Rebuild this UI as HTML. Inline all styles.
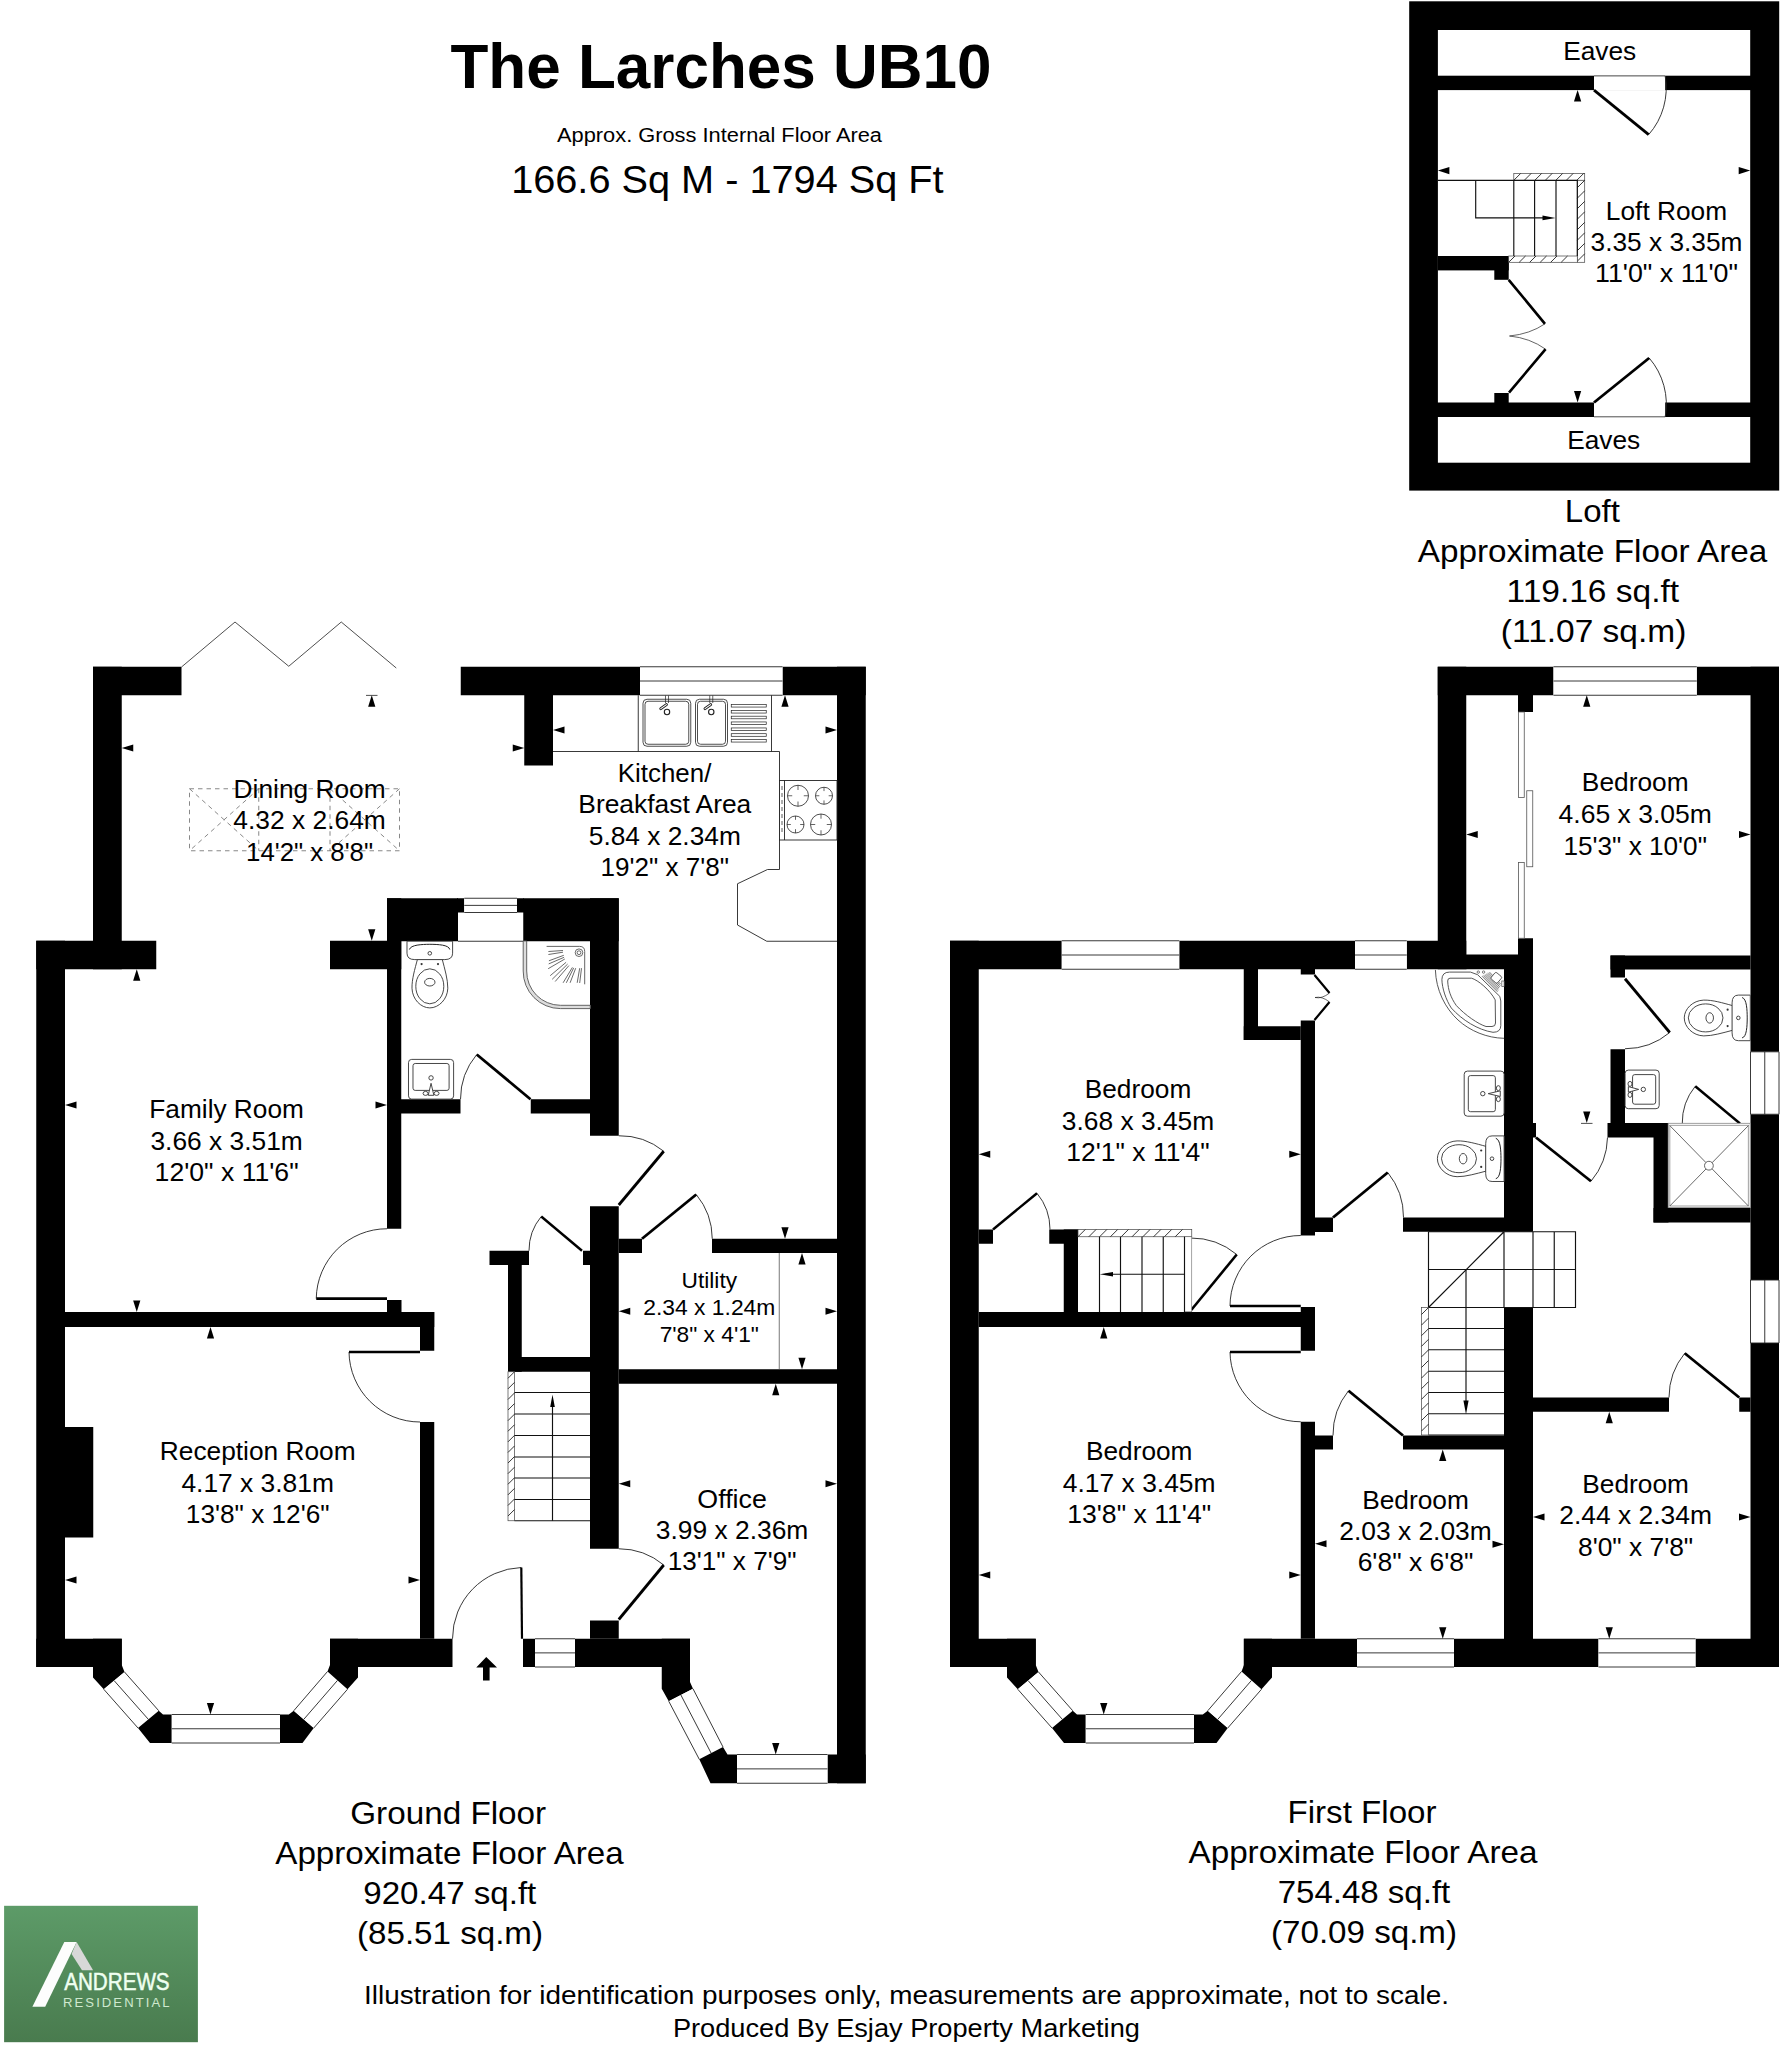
<!DOCTYPE html>
<html><head><meta charset="utf-8"><title>The Larches UB10</title>
<style>
html,body{margin:0;padding:0;background:#fff;}
body{width:1781px;height:2048px;overflow:hidden;}
svg{display:block;font-family:"Liberation Sans",sans-serif;}
</style></head><body>
<svg width="1781" height="2048" viewBox="0 0 1781 2048">
<defs><linearGradient id="lg" x1="0" y1="0" x2="0" y2="1"><stop offset="0" stop-color="#5d9b68"/><stop offset="1" stop-color="#497b4e"/></linearGradient></defs>
<rect width="1781" height="2048" fill="#fff"/>
<g id="ground">
<rect x="93" y="666.75" width="88.5" height="28.5" fill="#000" />
<rect x="93" y="666.75" width="28.75" height="302.5" fill="#000" />
<rect x="36.25" y="940.75" width="120" height="28.5" fill="#000" />
<rect x="36.25" y="940.75" width="28.75" height="726.25" fill="#000" />
<rect x="330" y="940.75" width="71.25" height="28.5" fill="#000" />
<rect x="387" y="898.25" width="14.25" height="330.5" fill="#000" />
<rect x="387" y="898.25" width="71" height="43" fill="#000" />
<rect x="457" y="898.25" width="7.25" height="14.25" fill="#000" />
<rect x="517" y="898.25" width="7" height="14.25" fill="#000" />
<rect x="523.25" y="898.25" width="95.5" height="43" fill="#000" />
<rect x="590" y="898.25" width="28.75" height="237.5" fill="#000" />
<rect x="387" y="1099.25" width="73.5" height="14.25" fill="#000" />
<rect x="530.75" y="1099.25" width="59.25" height="14.25" fill="#000" />
<rect x="460.75" y="666.75" width="179.25" height="28.5" fill="#000" />
<rect x="782.5" y="666.75" width="83.25" height="28.5" fill="#000" />
<rect x="524.25" y="695" width="28.75" height="70.5" fill="#000" />
<rect x="837" y="666.75" width="28.75" height="1116.5" fill="#000" />
<rect x="590" y="1206.25" width="28.75" height="342.5" fill="#000" />
<rect x="618.75" y="1238.75" width="23.25" height="14.25" fill="#000" />
<rect x="712" y="1238.75" width="125" height="14.25" fill="#000" />
<rect x="618.75" y="1369.25" width="218.25" height="14.5" fill="#000" />
<rect x="489.5" y="1250.75" width="39.5" height="14.25" fill="#000" />
<rect x="583" y="1250.75" width="7" height="14.25" fill="#000" />
<rect x="508" y="1265" width="13.75" height="106.75" fill="#000" />
<rect x="508" y="1357" width="82" height="14.75" fill="#000" />
<rect x="387" y="1300" width="14.5" height="12" fill="#000" />
<rect x="65" y="1312" width="369.25" height="15" fill="#000" />
<rect x="420" y="1312" width="14.25" height="38.75" fill="#000" />
<rect x="420" y="1422" width="14.25" height="216.75" fill="#000" />
<rect x="65" y="1427" width="28.25" height="110.5" fill="#000" />
<rect x="36.25" y="1638.75" width="85.5" height="28.25" fill="#000" />
<rect x="330" y="1638.75" width="122.5" height="28.25" fill="#000" />
<rect x="523" y="1638.75" width="12" height="28.25" fill="#000" />
<rect x="575" y="1638.75" width="115" height="28.25" fill="#000" />
<rect x="590" y="1620.5" width="28.75" height="18.25" fill="#000" />
<rect x="827.5" y="1754.5" width="38.25" height="28.75" fill="#000" />
<polygon points="93,1667 93,1677.5 103.75,1689.25 124.5,1672 121.75,1665 121.75,1638.75 93,1638.75" fill="#000" />
<polygon points="124.5,1672 158.75,1710.75 138,1728 103.75,1689.25" fill="#fff" />
<line x1="124.5" y1="1672" x2="158.75" y2="1710.75" stroke="#222" stroke-width="0.9" />
<line x1="103.75" y1="1689.25" x2="138" y2="1728" stroke="#222" stroke-width="0.9" />
<line x1="114.12" y1="1680.62" x2="148.38" y2="1719.38" stroke="#222" stroke-width="0.9" />
<polygon points="138,1728 158.75,1710.75 163,1714.5 171.75,1714.5 171.75,1743 150,1743" fill="#000" />
<rect x="171.75" y="1714.5" width="108.25" height="28.5" fill="#fff" />
<line x1="171.75" y1="1714.5" x2="280" y2="1714.5" stroke="#222" stroke-width="0.9" />
<line x1="171.75" y1="1728.75" x2="280" y2="1728.75" stroke="#222" stroke-width="0.9" />
<line x1="171.75" y1="1743" x2="280" y2="1743" stroke="#222" stroke-width="0.9" />
<polygon points="280,1714.5 288.75,1714.5 293.75,1710.75 313.75,1728 302.5,1743 280,1743" fill="#000" />
<polygon points="293.75,1710.75 327.5,1671.5 347.5,1689.25 313.75,1728" fill="#fff" />
<line x1="293.75" y1="1710.75" x2="327.5" y2="1671.5" stroke="#222" stroke-width="0.9" />
<line x1="313.75" y1="1728" x2="347.5" y2="1689.25" stroke="#222" stroke-width="0.9" />
<line x1="303.75" y1="1719.38" x2="337.5" y2="1680.38" stroke="#222" stroke-width="0.9" />
<polygon points="330,1638.75 330,1665 327.5,1671.5 347.5,1689.25 358,1677.5 358,1638.75" fill="#000" />
<polygon points="661.75,1667 661.75,1688.75 668.75,1701.25 693,1688.75 690,1682 690,1638.75 661.75,1638.75" fill="#000" />
<polygon points="693,1688.75 723,1747 699.25,1759.25 668.75,1701.25" fill="#fff" />
<line x1="693" y1="1688.75" x2="723" y2="1747" stroke="#222" stroke-width="0.9" />
<line x1="668.75" y1="1701.25" x2="699.25" y2="1759.25" stroke="#222" stroke-width="0.9" />
<line x1="680.88" y1="1695" x2="711.12" y2="1753.12" stroke="#222" stroke-width="0.9" />
<polygon points="699.25,1759.25 723,1747 727.5,1754.5 737,1754.5 737,1783.25 710.5,1783.25" fill="#000" />
<rect x="737" y="1754.5" width="90.5" height="28.75" fill="#fff" />
<line x1="737" y1="1754.5" x2="827.5" y2="1754.5" stroke="#222" stroke-width="0.9" />
<line x1="737" y1="1768.88" x2="827.5" y2="1768.88" stroke="#222" stroke-width="0.9" />
<line x1="737" y1="1783.25" x2="827.5" y2="1783.25" stroke="#222" stroke-width="0.9" />
<rect x="640" y="666.75" width="142.5" height="28.5" fill="#fff" />
<line x1="640" y1="666.75" x2="782.5" y2="666.75" stroke="#222" stroke-width="0.9" />
<line x1="640" y1="681" x2="782.5" y2="681" stroke="#222" stroke-width="0.9" />
<line x1="640" y1="695.25" x2="782.5" y2="695.25" stroke="#222" stroke-width="0.9" />
<rect x="464.25" y="898.25" width="52.75" height="14.25" fill="#fff" />
<line x1="464.25" y1="898.25" x2="517" y2="898.25" stroke="#222" stroke-width="0.9" />
<line x1="464.25" y1="905.38" x2="517" y2="905.38" stroke="#222" stroke-width="0.9" />
<line x1="464.25" y1="912.5" x2="517" y2="912.5" stroke="#222" stroke-width="0.9" />
<line x1="458" y1="941.25" x2="523.25" y2="941.25" stroke="#222" stroke-width="0.9" />
<rect x="535" y="1638.75" width="40" height="28.25" fill="#fff" />
<line x1="535" y1="1638.75" x2="575" y2="1638.75" stroke="#222" stroke-width="0.9" />
<line x1="535" y1="1652.88" x2="575" y2="1652.88" stroke="#222" stroke-width="0.9" />
<line x1="535" y1="1667" x2="575" y2="1667" stroke="#222" stroke-width="0.9" />
<path d="M181.5,667 L235,622 L288.75,666.25 L341.25,622 L396.25,668" stroke="#222" stroke-width="0.8" fill="none" />
<g stroke="#555" stroke-width="0.7" fill="none" stroke-dasharray="4.5 4">
<rect x="189.5" y="788.75" width="210" height="62"/>
<path d="M258.75,788.75 V850.75 M330,788.75 V850.75 M189.5,788.75 L258.75,850.75 M258.75,788.75 L189.5,850.75 M330,788.75 L399.5,850.75 M399.5,788.75 L330,850.75"/>
</g>
<path d="M553,751.5 H779.5 V869.5 H767.5 L737.5,883.75 V925 L766.75,941.25 H837" stroke="#222" stroke-width="0.9" fill="none" />
<line x1="638.25" y1="695.25" x2="638.25" y2="751.5" stroke="#222" stroke-width="0.9" />
<line x1="771.5" y1="695.25" x2="771.5" y2="751.5" stroke="#222" stroke-width="0.9" />
<rect x="643" y="699.25" width="47.75" height="47" rx="4" fill="none" stroke="#222" stroke-width="0.8"/>
<rect x="645" y="701.25" width="43.75" height="43" rx="3" fill="none" stroke="#222" stroke-width="0.8"/>
<rect x="695.5" y="699.25" width="32" height="47" rx="4" fill="none" stroke="#222" stroke-width="0.8"/>
<rect x="697.5" y="701.25" width="28" height="43" rx="3" fill="none" stroke="#222" stroke-width="0.8"/>
<circle cx="667" cy="712" r="2.7" stroke="#222" stroke-width="1.1" fill="none"/>
<path d="M665.5,695.5 V703 M668.5,695.5 V703" stroke="#222" stroke-width="0.7" fill="none" />
<line x1="660.8" y1="708.6" x2="666.4" y2="704.6" stroke="#222" stroke-width="3" stroke-linecap="round"/>
<line x1="660.8" y1="708.6" x2="666.4" y2="704.6" stroke="#fff" stroke-width="1.1" stroke-linecap="round"/>
<circle cx="711.25" cy="712" r="2.7" stroke="#222" stroke-width="1.1" fill="none"/>
<path d="M709.75,695.5 V703 M712.75,695.5 V703" stroke="#222" stroke-width="0.7" fill="none" />
<line x1="705.05" y1="708.6" x2="710.65" y2="704.6" stroke="#222" stroke-width="3" stroke-linecap="round"/>
<line x1="705.05" y1="708.6" x2="710.65" y2="704.6" stroke="#fff" stroke-width="1.1" stroke-linecap="round"/>
<rect x="731.25" y="704.45" width="35" height="2.6" fill="none" stroke="#222" stroke-width="0.7"/>
<rect x="731.25" y="710.45" width="35" height="2.6" fill="none" stroke="#222" stroke-width="0.7"/>
<rect x="731.25" y="716.2" width="35" height="2.6" fill="none" stroke="#222" stroke-width="0.7"/>
<rect x="731.25" y="721.95" width="35" height="2.6" fill="none" stroke="#222" stroke-width="0.7"/>
<rect x="731.25" y="727.95" width="35" height="2.6" fill="none" stroke="#222" stroke-width="0.7"/>
<rect x="731.25" y="733.7" width="35" height="2.6" fill="none" stroke="#222" stroke-width="0.7"/>
<rect x="731.25" y="739.45" width="35" height="2.6" fill="none" stroke="#222" stroke-width="0.7"/>
<rect x="779.5" y="780.5" width="57.5" height="59.5" fill="#fff" stroke="#222" stroke-width="0.9"/>
<line x1="784.5" y1="780.5" x2="784.5" y2="840" stroke="#222" stroke-width="0.9" />
<line x1="782" y1="786" x2="782" y2="834" stroke="#333" stroke-width="0.8" stroke-dasharray="4 3"/>
<circle cx="798" cy="795.75" r="10.5" stroke="#222" stroke-width="0.8" fill="none"/>
<path d="M787.5,795.75 h4.73 M808.5,795.75 h-4.73 M798,785.25 v4.73 M798,806.25 v-4.73" stroke="#222" stroke-width="0.7" fill="none" />
<circle cx="824" cy="795.75" r="8.5" stroke="#222" stroke-width="0.8" fill="none"/>
<path d="M815.5,795.75 h3.83 M832.5,795.75 h-3.83 M824,787.25 v3.83 M824,804.25 v-3.83" stroke="#222" stroke-width="0.7" fill="none" />
<circle cx="795.5" cy="824.5" r="8.5" stroke="#222" stroke-width="0.8" fill="none"/>
<path d="M787,824.5 h3.83 M804,824.5 h-3.83 M795.5,816 v3.83 M795.5,833 v-3.83" stroke="#222" stroke-width="0.7" fill="none" />
<circle cx="821" cy="824.5" r="10.5" stroke="#222" stroke-width="0.8" fill="none"/>
<path d="M810.5,824.5 h4.73 M831.5,824.5 h-4.73 M821,814 v4.73 M821,835 v-4.73" stroke="#222" stroke-width="0.7" fill="none" />
<path d="M523.2,941 V971 A37.2,37.2 0 0 0 560.4,1008.6 H590.3 V1005.3 H560.4 A33.9,33.9 0 0 1 526.7,971 V941 Z" stroke="#555" stroke-width="0.9" fill="#dcdcdc" />
<path d="M546.6,946.4 H579.7 Q584.7,946.4 584.7,951.4 V984.3" stroke="#555" stroke-width="0.9" fill="none" />
<circle cx="579" cy="952.7" r="3.8" stroke="#444" stroke-width="0.8" fill="none"/>
<circle cx="579" cy="952.7" r="1.9" stroke="#444" stroke-width="0.8" fill="none"/>
<line x1="563" y1="950.5" x2="548.4" y2="951.5" stroke="#444" stroke-width="0.8" />
<line x1="563" y1="952.2" x2="548.4" y2="954.5" stroke="#444" stroke-width="0.8" />
<line x1="563.8" y1="955.3" x2="548.9" y2="960.8" stroke="#444" stroke-width="0.8" />
<line x1="564.1" y1="957.3" x2="548.7" y2="963.9" stroke="#444" stroke-width="0.8" />
<line x1="564.8" y1="959" x2="548.2" y2="968.7" stroke="#444" stroke-width="0.8" />
<line x1="566.1" y1="962.3" x2="550.2" y2="975.7" stroke="#444" stroke-width="0.8" />
<line x1="567.6" y1="964.1" x2="552.2" y2="979.3" stroke="#444" stroke-width="0.8" />
<line x1="568.9" y1="965.6" x2="555.2" y2="981.5" stroke="#444" stroke-width="0.8" />
<line x1="572.4" y1="967.4" x2="563.1" y2="982.8" stroke="#444" stroke-width="0.8" />
<line x1="573.7" y1="967.9" x2="566.3" y2="982.8" stroke="#444" stroke-width="0.8" />
<line x1="575.7" y1="968.2" x2="570.1" y2="982.8" stroke="#444" stroke-width="0.8" />
<line x1="579.7" y1="968.2" x2="577.2" y2="982.8" stroke="#444" stroke-width="0.8" />
<line x1="581.5" y1="968.2" x2="579.7" y2="983" stroke="#444" stroke-width="0.8" />
<path d="M476.75,1054.5 A69.94,69.94 0 0 0 460.5,1099.25" stroke="#222" stroke-width="0.9" fill="none" />
<line x1="530.5" y1="1099.25" x2="476.75" y2="1054.5" stroke="#000" stroke-width="2.8" stroke-linecap="butt"/>
<path d="M663.75,1151.25 A70.1,70.1 0 0 0 618.75,1135.75" stroke="#222" stroke-width="0.9" fill="none" />
<line x1="618.75" y1="1205" x2="663.75" y2="1151.25" stroke="#000" stroke-width="2.8" stroke-linecap="butt"/>
<path d="M696.25,1194.5 A70.01,70.01 0 0 1 712.25,1238.75" stroke="#222" stroke-width="0.9" fill="none" />
<line x1="642" y1="1238.75" x2="696.25" y2="1194.5" stroke="#000" stroke-width="2.8" stroke-linecap="butt"/>
<path d="M541.25,1216.5 A53.23,53.23 0 0 0 529,1250.75" stroke="#222" stroke-width="0.9" fill="none" />
<line x1="582" y1="1250.75" x2="541.25" y2="1216.5" stroke="#000" stroke-width="2.4" stroke-linecap="butt"/>
<path d="M316.25,1298.6 A70.75,70.75 0 0 1 387,1228.75" stroke="#222" stroke-width="0.9" fill="none" />
<line x1="387" y1="1298.6" x2="316.25" y2="1298.6" stroke="#000" stroke-width="2.6" stroke-linecap="butt"/>
<path d="M349,1352 A71,71 0 0 0 420,1422" stroke="#222" stroke-width="0.9" fill="none" />
<line x1="420" y1="1352" x2="349" y2="1352" stroke="#000" stroke-width="2.6" stroke-linecap="butt"/>
<path d="M663.75,1565 A70.68,70.68 0 0 0 618.75,1548.75" stroke="#222" stroke-width="0.9" fill="none" />
<line x1="618.75" y1="1619.5" x2="663.75" y2="1565" stroke="#000" stroke-width="2.8" stroke-linecap="butt"/>
<path d="M521.3,1567.5 A71.25,71.25 0 0 0 452.5,1638.75" stroke="#222" stroke-width="0.9" fill="none" />
<line x1="522" y1="1638.75" x2="521.3" y2="1567.5" stroke="#000" stroke-width="2.2" stroke-linecap="butt"/>
<line x1="779.25" y1="1253" x2="779.25" y2="1369.25" stroke="#555" stroke-width="0.8" />
<rect x="508" y="1371.75" width="6.5" height="149" fill="#fff" stroke="#444" stroke-width="0.7"/>
<line x1="508" y1="1378.25" x2="514.5" y2="1371.75" stroke="#222" stroke-width="0.9" />
<line x1="508" y1="1388.85" x2="514.5" y2="1382.35" stroke="#222" stroke-width="0.9" />
<line x1="508" y1="1399.45" x2="514.5" y2="1392.95" stroke="#222" stroke-width="0.9" />
<line x1="508" y1="1410.05" x2="514.5" y2="1403.55" stroke="#222" stroke-width="0.9" />
<line x1="508" y1="1420.65" x2="514.5" y2="1414.15" stroke="#222" stroke-width="0.9" />
<line x1="508" y1="1431.25" x2="514.5" y2="1424.75" stroke="#222" stroke-width="0.9" />
<line x1="508" y1="1441.85" x2="514.5" y2="1435.35" stroke="#222" stroke-width="0.9" />
<line x1="508" y1="1452.45" x2="514.5" y2="1445.95" stroke="#222" stroke-width="0.9" />
<line x1="508" y1="1463.05" x2="514.5" y2="1456.55" stroke="#222" stroke-width="0.9" />
<line x1="508" y1="1473.65" x2="514.5" y2="1467.15" stroke="#222" stroke-width="0.9" />
<line x1="508" y1="1484.25" x2="514.5" y2="1477.75" stroke="#222" stroke-width="0.9" />
<line x1="508" y1="1494.85" x2="514.5" y2="1488.35" stroke="#222" stroke-width="0.9" />
<line x1="508" y1="1505.45" x2="514.5" y2="1498.95" stroke="#222" stroke-width="0.9" />
<line x1="508" y1="1516.05" x2="514.5" y2="1509.55" stroke="#222" stroke-width="0.9" />
<path d="M514.5,1520.75 H590" stroke="#111" stroke-width="1.15" fill="none" />
<line x1="514.5" y1="1392.5" x2="590" y2="1392.5" stroke="#111" stroke-width="1.15" />
<line x1="514.5" y1="1414" x2="590" y2="1414" stroke="#111" stroke-width="1.15" />
<line x1="514.5" y1="1435.5" x2="590" y2="1435.5" stroke="#111" stroke-width="1.15" />
<line x1="514.5" y1="1457" x2="590" y2="1457" stroke="#111" stroke-width="1.15" />
<line x1="514.5" y1="1478" x2="590" y2="1478" stroke="#111" stroke-width="1.15" />
<line x1="514.5" y1="1499.5" x2="590" y2="1499.5" stroke="#111" stroke-width="1.15" />
<line x1="552.5" y1="1520.75" x2="552.5" y2="1400" stroke="#111" stroke-width="1.15" />
<polygon points="552.5,1394.5 550.2,1407 554.8,1407" fill="#000" />
<polygon points="486.25,1657 497,1667.5 489.6,1667.5 489.6,1680.5 483,1680.5 483,1667.5 476.25,1667.5" fill="#000" />
<g transform="translate(429.8,941.2) rotate(0) scale(1,1)" fill="#fff" stroke="#333" stroke-width="0.9">
<path d="M-12.3,18 C-15,28 -18,38 -17.8,47 C-17.5,58 -9,66.7 0,66.7 C9,66.7 17.8,58 18,47 C18,38 15,28 12.4,18 Z"/>
<ellipse cx="0" cy="45.1" rx="14" ry="17.5"/>
<ellipse cx="0" cy="41" rx="5.2" ry="3.8"/>
<path d="M-22.8,0 H22.8 V12 Q22.8,18.4 15,18.4 H-15 Q-22.8,18.4 -22.8,12 Z"/>
<path d="M-20.4,8.3 C-19,3.5 -8,3.2 0,3.1 C8,3.2 19,3.5 20,8.3" fill="none" stroke="#222" stroke-width="1"/>
<circle cx="0" cy="12.1" r="1.8"/>
<circle cx="-8.2" cy="22.9" r="1.1" fill="#333" stroke="none"/><circle cx="8.2" cy="22.9" r="1.1" fill="#333" stroke="none"/>
</g>
<g transform="translate(431.05,1099.1) rotate(180)" fill="#fff" stroke="#333" stroke-width="0.9">
<rect x="-22.55" y="0" width="45.1" height="39.7" rx="3.2"/>
<rect x="-18.05" y="8.7" width="36.1" height="26.9" rx="2.2"/>
<circle cx="0" cy="21.2" r="2.2"/>
<path d="M0,15.8 L-2.8,3.8 H2.8 Z"/>
<ellipse cx="-5.5" cy="5.7" rx="2.5" ry="2"/><ellipse cx="5.5" cy="5.7" rx="2.5" ry="2"/>
</g>
<polygon points="121.75,748 133.25,744.4 133.25,751.6" fill="#000" />
<polygon points="524.25,748 512.75,744.4 512.75,751.6" fill="#000" />
<polygon points="371.75,695.25 368.15,706.75 375.35,706.75" fill="#000" />
<polygon points="371.75,940.75 368.15,929.25 375.35,929.25" fill="#000" />
<polygon points="553,730 564.5,726.4 564.5,733.6" fill="#000" />
<polygon points="837,730 825.5,726.4 825.5,733.6" fill="#000" />
<polygon points="785,695.25 781.4,706.75 788.6,706.75" fill="#000" />
<polygon points="785,1238.75 781.4,1227.25 788.6,1227.25" fill="#000" />
<polygon points="136.75,969.25 133.15,980.75 140.35,980.75" fill="#000" />
<polygon points="136.75,1312 133.15,1300.5 140.35,1300.5" fill="#000" />
<polygon points="65,1105 76.5,1101.4 76.5,1108.6" fill="#000" />
<polygon points="387,1105 375.5,1101.4 375.5,1108.6" fill="#000" />
<polygon points="210.5,1327 206.9,1338.5 214.1,1338.5" fill="#000" />
<polygon points="210.5,1714.5 206.9,1703 214.1,1703" fill="#000" />
<polygon points="65,1580 76.5,1576.4 76.5,1583.6" fill="#000" />
<polygon points="420,1580 408.5,1576.4 408.5,1583.6" fill="#000" />
<polygon points="618.75,1311.25 630.25,1307.65 630.25,1314.85" fill="#000" />
<polygon points="837,1311.25 825.5,1307.65 825.5,1314.85" fill="#000" />
<polygon points="802,1253 798.4,1264.5 805.6,1264.5" fill="#000" />
<polygon points="802,1369.25 798.4,1357.75 805.6,1357.75" fill="#000" />
<polygon points="775.75,1383.75 772.15,1395.25 779.35,1395.25" fill="#000" />
<polygon points="775.75,1754.5 772.15,1743 779.35,1743" fill="#000" />
<polygon points="618.75,1483.75 630.25,1480.15 630.25,1487.35" fill="#000" />
<polygon points="837,1483.75 825.5,1480.15 825.5,1487.35" fill="#000" />
<line x1="366" y1="695.4" x2="377.5" y2="695.4" stroke="#222" stroke-width="0.8" />
</g>
<g id="first">
<rect x="950" y="940.75" width="28.75" height="726.25" fill="#000" />
<rect x="950" y="940.75" width="111.75" height="28.5" fill="#000" />
<rect x="1179.25" y="940.75" width="175.75" height="28.5" fill="#000" />
<rect x="1406.75" y="940.75" width="59.5" height="28.5" fill="#000" />
<rect x="1466" y="954.5" width="67" height="14.75" fill="#000" />
<rect x="1437.75" y="666.75" width="28.5" height="302.5" fill="#000" />
<rect x="1437.75" y="666.75" width="115.75" height="28.5" fill="#000" />
<rect x="1696.75" y="666.75" width="82.25" height="28.5" fill="#000" />
<rect x="1750.5" y="666.75" width="28.5" height="385.05" fill="#000" />
<rect x="1750.5" y="1114.25" width="28.5" height="165.75" fill="#000" />
<rect x="1750.5" y="1343" width="28.5" height="324" fill="#000" />
<rect x="1518" y="695" width="15" height="17" fill="#000" />
<rect x="1518" y="938.25" width="15" height="31" fill="#000" />
<rect x="1504" y="969" width="29" height="262.75" fill="#000" />
<rect x="1533" y="1123" width="3" height="14.5" fill="#000" />
<rect x="1504" y="1308" width="29" height="359" fill="#000" />
<rect x="1243.75" y="969" width="14.25" height="71" fill="#000" />
<rect x="1243.75" y="1026.25" width="57" height="13.75" fill="#000" />
<rect x="1300.75" y="1020.5" width="14.25" height="215" fill="#000" />
<rect x="1300.75" y="969" width="14.25" height="5.5" fill="#000" />
<rect x="1315" y="1217.5" width="18" height="14.5" fill="#000" />
<rect x="1403" y="1217.5" width="101" height="14.25" fill="#000" />
<rect x="978.75" y="1229.5" width="14.25" height="14.25" fill="#000" />
<rect x="1049.25" y="1229.5" width="28.75" height="14.25" fill="#000" />
<rect x="1063.75" y="1229.5" width="14.25" height="82.5" fill="#000" />
<rect x="978.75" y="1312" width="336.25" height="15" fill="#000" />
<rect x="1300.75" y="1307" width="14.25" height="43.75" fill="#000" />
<rect x="1300.75" y="1421.75" width="14.25" height="217" fill="#000" />
<rect x="1315" y="1435.5" width="18" height="14" fill="#000" />
<rect x="1403" y="1435.5" width="101" height="14" fill="#000" />
<rect x="1533" y="1397.5" width="136" height="14.25" fill="#000" />
<rect x="1739.25" y="1397.5" width="11.25" height="14.25" fill="#000" />
<rect x="1610.5" y="955.5" width="140" height="14" fill="#000" />
<rect x="1610.5" y="955.5" width="14.5" height="22" fill="#000" />
<rect x="1610.5" y="1049.25" width="14.5" height="74.25" fill="#000" />
<rect x="1607.5" y="1123" width="61" height="14.5" fill="#000" />
<rect x="1653.5" y="1123" width="15" height="99.5" fill="#000" />
<rect x="1653.5" y="1208" width="97" height="14.5" fill="#000" />
<rect x="950" y="1638.75" width="85.75" height="28.25" fill="#000" />
<rect x="1243.75" y="1638.75" width="113.25" height="28.25" fill="#000" />
<rect x="1454" y="1638.75" width="144.5" height="28.25" fill="#000" />
<rect x="1695.5" y="1638.75" width="83.5" height="28.25" fill="#000" />
<polygon points="1007,1667 1007,1677.5 1017.75,1689.25 1038.5,1672 1035.75,1665 1035.75,1638.75 1007,1638.75" fill="#000" />
<polygon points="1038.5,1672 1072.75,1710.75 1052,1728 1017.75,1689.25" fill="#fff" />
<line x1="1038.5" y1="1672" x2="1072.75" y2="1710.75" stroke="#222" stroke-width="0.9" />
<line x1="1017.75" y1="1689.25" x2="1052" y2="1728" stroke="#222" stroke-width="0.9" />
<line x1="1028.12" y1="1680.62" x2="1062.38" y2="1719.38" stroke="#222" stroke-width="0.9" />
<polygon points="1052,1728 1072.75,1710.75 1077,1714.5 1085.75,1714.5 1085.75,1743 1064,1743" fill="#000" />
<rect x="1085.75" y="1714.5" width="108.25" height="28.5" fill="#fff" />
<line x1="1085.75" y1="1714.5" x2="1194" y2="1714.5" stroke="#222" stroke-width="0.9" />
<line x1="1085.75" y1="1728.75" x2="1194" y2="1728.75" stroke="#222" stroke-width="0.9" />
<line x1="1085.75" y1="1743" x2="1194" y2="1743" stroke="#222" stroke-width="0.9" />
<polygon points="1194,1714.5 1202.75,1714.5 1207.75,1710.75 1227.75,1728 1216.5,1743 1194,1743" fill="#000" />
<polygon points="1207.75,1710.75 1241.5,1671.5 1261.5,1689.25 1227.75,1728" fill="#fff" />
<line x1="1207.75" y1="1710.75" x2="1241.5" y2="1671.5" stroke="#222" stroke-width="0.9" />
<line x1="1227.75" y1="1728" x2="1261.5" y2="1689.25" stroke="#222" stroke-width="0.9" />
<line x1="1217.75" y1="1719.38" x2="1251.5" y2="1680.38" stroke="#222" stroke-width="0.9" />
<polygon points="1244,1638.75 1244,1665 1241.5,1671.5 1261.5,1689.25 1272,1677.5 1272,1638.75" fill="#000" />
<rect x="1061.75" y="940.75" width="117.5" height="28.5" fill="#fff" />
<line x1="1061.75" y1="940.75" x2="1179.25" y2="940.75" stroke="#222" stroke-width="0.9" />
<line x1="1061.75" y1="955" x2="1179.25" y2="955" stroke="#222" stroke-width="0.9" />
<line x1="1061.75" y1="969.25" x2="1179.25" y2="969.25" stroke="#222" stroke-width="0.9" />
<rect x="1355" y="940.75" width="51.75" height="28.5" fill="#fff" />
<line x1="1355" y1="940.75" x2="1406.75" y2="940.75" stroke="#222" stroke-width="0.9" />
<line x1="1355" y1="955" x2="1406.75" y2="955" stroke="#222" stroke-width="0.9" />
<line x1="1355" y1="969.25" x2="1406.75" y2="969.25" stroke="#222" stroke-width="0.9" />
<rect x="1553.5" y="666.75" width="143.25" height="28.5" fill="#fff" />
<line x1="1553.5" y1="666.75" x2="1696.75" y2="666.75" stroke="#222" stroke-width="0.9" />
<line x1="1553.5" y1="681" x2="1696.75" y2="681" stroke="#222" stroke-width="0.9" />
<line x1="1553.5" y1="695.25" x2="1696.75" y2="695.25" stroke="#222" stroke-width="0.9" />
<rect x="1750.5" y="1051.8" width="28.5" height="62.45" fill="#fff" />
<line x1="1750.5" y1="1051.8" x2="1750.5" y2="1114.25" stroke="#222" stroke-width="0.9" />
<line x1="1764.75" y1="1051.8" x2="1764.75" y2="1114.25" stroke="#222" stroke-width="0.9" />
<line x1="1779" y1="1051.8" x2="1779" y2="1114.25" stroke="#222" stroke-width="0.9" />
<line x1="1750.5" y1="1051.8" x2="1779" y2="1051.8" stroke="#222" stroke-width="0.9" />
<line x1="1750.5" y1="1114.25" x2="1779" y2="1114.25" stroke="#222" stroke-width="0.9" />
<rect x="1750.5" y="1280" width="28.5" height="63" fill="#fff" />
<line x1="1750.5" y1="1280" x2="1750.5" y2="1343" stroke="#222" stroke-width="0.9" />
<line x1="1764.75" y1="1280" x2="1764.75" y2="1343" stroke="#222" stroke-width="0.9" />
<line x1="1779" y1="1280" x2="1779" y2="1343" stroke="#222" stroke-width="0.9" />
<line x1="1750.5" y1="1280" x2="1779" y2="1280" stroke="#222" stroke-width="0.9" />
<line x1="1750.5" y1="1343" x2="1779" y2="1343" stroke="#222" stroke-width="0.9" />
<rect x="1357" y="1638.75" width="97" height="28.25" fill="#fff" />
<line x1="1357" y1="1638.75" x2="1454" y2="1638.75" stroke="#222" stroke-width="0.9" />
<line x1="1357" y1="1652.88" x2="1454" y2="1652.88" stroke="#222" stroke-width="0.9" />
<line x1="1357" y1="1667" x2="1454" y2="1667" stroke="#222" stroke-width="0.9" />
<rect x="1598.5" y="1638.75" width="97" height="28.25" fill="#fff" />
<line x1="1598.5" y1="1638.75" x2="1695.5" y2="1638.75" stroke="#222" stroke-width="0.9" />
<line x1="1598.5" y1="1652.88" x2="1695.5" y2="1652.88" stroke="#222" stroke-width="0.9" />
<line x1="1598.5" y1="1667" x2="1695.5" y2="1667" stroke="#222" stroke-width="0.9" />
<rect x="1518.5" y="712" width="5.75" height="85.5" fill="#fff" stroke="#555" stroke-width="0.8"/>
<rect x="1526.75" y="790.75" width="6" height="76" fill="#fff" stroke="#555" stroke-width="0.8"/>
<rect x="1518.5" y="862.5" width="5.75" height="75.75" fill="#fff" stroke="#555" stroke-width="0.8"/>
<path d="M1314.5,975 L1329.5,993 M1314.5,1020 L1329.5,1002" stroke="#000" stroke-width="2.2" fill="none" />
<path d="M1329.5,993 Q1322,999 1315,997.5 Q1322,996 1329.5,1002" stroke="#222" stroke-width="0.7" fill="none" />
<path d="M1037,1193.25 A57.01,57.01 0 0 1 1050,1229.5" stroke="#222" stroke-width="0.9" fill="none" />
<line x1="993" y1="1229.5" x2="1037" y2="1193.25" stroke="#000" stroke-width="2.4" stroke-linecap="butt"/>
<path d="M1236.75,1254.5 A71.77,71.77 0 0 0 1190.5,1238" stroke="#222" stroke-width="0.9" fill="none" />
<line x1="1191.25" y1="1310" x2="1236.75" y2="1254.5" stroke="#000" stroke-width="2.6" stroke-linecap="butt"/>
<path d="M1230,1306 A70.75,70.75 0 0 1 1300.75,1235.5" stroke="#222" stroke-width="0.9" fill="none" />
<line x1="1300.75" y1="1306" x2="1230" y2="1306" stroke="#000" stroke-width="2.6" stroke-linecap="butt"/>
<path d="M1230,1352 A70.75,70.75 0 0 0 1300.75,1421.75" stroke="#222" stroke-width="0.9" fill="none" />
<line x1="1300.75" y1="1352" x2="1230" y2="1352" stroke="#000" stroke-width="2.6" stroke-linecap="butt"/>
<path d="M1387.75,1172.5 A70.87,70.87 0 0 1 1403.5,1217.5" stroke="#222" stroke-width="0.9" fill="none" />
<line x1="1333" y1="1217.5" x2="1387.75" y2="1172.5" stroke="#000" stroke-width="2.8" stroke-linecap="butt"/>
<path d="M1348.5,1390.75 A70.52,70.52 0 0 0 1333,1435.5" stroke="#222" stroke-width="0.9" fill="none" />
<line x1="1403" y1="1435.5" x2="1348.5" y2="1390.75" stroke="#000" stroke-width="2.8" stroke-linecap="butt"/>
<path d="M1591,1181.25 A70.28,70.28 0 0 0 1607.5,1137.5" stroke="#222" stroke-width="0.9" fill="none" />
<line x1="1536" y1="1137.5" x2="1591" y2="1181.25" stroke="#000" stroke-width="2.8" stroke-linecap="butt"/>
<path d="M1669.75,1032.5 A69.94,69.94 0 0 1 1625,1048.75" stroke="#222" stroke-width="0.9" fill="none" />
<line x1="1625" y1="978.75" x2="1669.75" y2="1032.5" stroke="#000" stroke-width="2.8" stroke-linecap="butt"/>
<path d="M1684.75,1353.25 A70.2,70.2 0 0 0 1669,1397.5" stroke="#222" stroke-width="0.9" fill="none" />
<line x1="1739.25" y1="1397.5" x2="1684.75" y2="1353.25" stroke="#000" stroke-width="2.8" stroke-linecap="butt"/>
<path d="M1695.25,1086.25 A58.22,58.22 0 0 0 1682.25,1123.75" stroke="#222" stroke-width="0.9" fill="none" />
<line x1="1740" y1="1123.5" x2="1695.25" y2="1086.25" stroke="#000" stroke-width="2.4" stroke-linecap="butt"/>
<rect x="1078" y="1229.5" width="113.75" height="7.25" fill="#fff" stroke="#444" stroke-width="0.7"/>
<line x1="1078" y1="1236.75" x2="1085.25" y2="1229.5" stroke="#222" stroke-width="0.9" />
<line x1="1088.8" y1="1236.75" x2="1096.05" y2="1229.5" stroke="#222" stroke-width="0.9" />
<line x1="1099.6" y1="1236.75" x2="1106.85" y2="1229.5" stroke="#222" stroke-width="0.9" />
<line x1="1110.4" y1="1236.75" x2="1117.65" y2="1229.5" stroke="#222" stroke-width="0.9" />
<line x1="1121.2" y1="1236.75" x2="1128.45" y2="1229.5" stroke="#222" stroke-width="0.9" />
<line x1="1132" y1="1236.75" x2="1139.25" y2="1229.5" stroke="#222" stroke-width="0.9" />
<line x1="1142.8" y1="1236.75" x2="1150.05" y2="1229.5" stroke="#222" stroke-width="0.9" />
<line x1="1153.6" y1="1236.75" x2="1160.85" y2="1229.5" stroke="#222" stroke-width="0.9" />
<line x1="1164.4" y1="1236.75" x2="1171.65" y2="1229.5" stroke="#222" stroke-width="0.9" />
<line x1="1175.2" y1="1236.75" x2="1182.45" y2="1229.5" stroke="#222" stroke-width="0.9" />
<rect x="1184.5" y="1236.75" width="7.25" height="75" fill="#fff" stroke="#666" stroke-width="0.6"/>
<line x1="1099.5" y1="1236.75" x2="1099.5" y2="1312" stroke="#111" stroke-width="1.15" />
<line x1="1120.5" y1="1236.75" x2="1120.5" y2="1312" stroke="#111" stroke-width="1.15" />
<line x1="1142" y1="1236.75" x2="1142" y2="1312" stroke="#111" stroke-width="1.15" />
<line x1="1163.25" y1="1236.75" x2="1163.25" y2="1312" stroke="#111" stroke-width="1.15" />
<line x1="1184.5" y1="1236.75" x2="1184.5" y2="1312" stroke="#111" stroke-width="1.15" />
<line x1="1184.5" y1="1274.25" x2="1105" y2="1274.25" stroke="#111" stroke-width="1.15" />
<polygon points="1099.8,1274.25 1113,1272 1113,1276.5" fill="#000" />
<path d="M1428.5,1231.75 V1307.5 H1575.5 V1231.75 H1428.5 M1428.5,1269.5 H1575.5 M1504,1231.75 V1307.5 M1533,1231.75 V1307.5 M1554.25,1231.75 V1307.5 M1504,1231.75 L1428.5,1307.5" stroke="#111" stroke-width="1.15" fill="none" />
<rect x="1421.5" y="1307.5" width="7" height="127.5" fill="#fff" stroke="#444" stroke-width="0.7"/>
<line x1="1421.5" y1="1314.5" x2="1428.5" y2="1307.5" stroke="#222" stroke-width="0.9" />
<line x1="1421.5" y1="1325.1" x2="1428.5" y2="1318.1" stroke="#222" stroke-width="0.9" />
<line x1="1421.5" y1="1335.7" x2="1428.5" y2="1328.7" stroke="#222" stroke-width="0.9" />
<line x1="1421.5" y1="1346.3" x2="1428.5" y2="1339.3" stroke="#222" stroke-width="0.9" />
<line x1="1421.5" y1="1356.9" x2="1428.5" y2="1349.9" stroke="#222" stroke-width="0.9" />
<line x1="1421.5" y1="1367.5" x2="1428.5" y2="1360.5" stroke="#222" stroke-width="0.9" />
<line x1="1421.5" y1="1378.1" x2="1428.5" y2="1371.1" stroke="#222" stroke-width="0.9" />
<line x1="1421.5" y1="1388.7" x2="1428.5" y2="1381.7" stroke="#222" stroke-width="0.9" />
<line x1="1421.5" y1="1399.3" x2="1428.5" y2="1392.3" stroke="#222" stroke-width="0.9" />
<line x1="1421.5" y1="1409.9" x2="1428.5" y2="1402.9" stroke="#222" stroke-width="0.9" />
<line x1="1421.5" y1="1420.5" x2="1428.5" y2="1413.5" stroke="#222" stroke-width="0.9" />
<line x1="1421.5" y1="1431.1" x2="1428.5" y2="1424.1" stroke="#222" stroke-width="0.9" />
<path d="M1428.5,1435 H1504" stroke="#111" stroke-width="1.15" fill="none" />
<line x1="1428.5" y1="1328.5" x2="1504" y2="1328.5" stroke="#111" stroke-width="1.15" />
<line x1="1428.5" y1="1349.75" x2="1504" y2="1349.75" stroke="#111" stroke-width="1.15" />
<line x1="1428.5" y1="1371.25" x2="1504" y2="1371.25" stroke="#111" stroke-width="1.15" />
<line x1="1428.5" y1="1392.5" x2="1504" y2="1392.5" stroke="#111" stroke-width="1.15" />
<line x1="1428.5" y1="1413.75" x2="1504" y2="1413.75" stroke="#111" stroke-width="1.15" />
<line x1="1466" y1="1269.5" x2="1466" y2="1404" stroke="#111" stroke-width="1.15" />
<polygon points="1466,1414.2 1463.4,1400.5 1468.6,1400.5" fill="#000" />
<rect x="1668.2" y="1123.3" width="82" height="84.3" fill="#fff" stroke="#888" stroke-width="0.8"/>
<rect x="1669.8" y="1125.4" width="78.6" height="80.6" fill="none" stroke="#aaa" stroke-width="1.1"/>
<path d="M1669.8,1125.6 L1748.4,1206 M1748.4,1125.6 L1669.8,1206" stroke="#444" stroke-width="0.8" fill="none" />
<circle cx="1708.9" cy="1165.7" r="4.4" stroke="#555" stroke-width="0.9" fill="#fff"/>
<path d="M1435.4,969.9 C1436,990 1445,1008 1458,1020 C1470,1031 1487,1038 1504.1,1038.3" stroke="#444" stroke-width="0.9" fill="none" />
<path d="M1449.5,972.1 H1470.5 L1477.6,974.7 L1499.8,996.4 L1500.8,1001 V1025.5 Q1500.8,1032.3 1493,1032.3 C1478,1030 1462,1020 1451.3,1008 C1446,1000 1442,988 1441.9,979.5 Q1442,972.1 1449.5,972.1 Z" stroke="#444" stroke-width="0.9" fill="none" />
<path d="M1450,978.2 H1471.5 C1478,980 1490,990 1495.2,999.9 L1495.5,1023 Q1495.5,1026.5 1492,1026.5 H1486 C1478,1024 1465,1015 1456.3,1005.5 C1451,998 1448,990 1447.7,981 Q1447.7,978.2 1450,978.2 Z" stroke="#444" stroke-width="0.9" fill="none" />
<line x1="1482" y1="976.2" x2="1497.5" y2="991.8" stroke="#444" stroke-width="0.7" />
<line x1="1483.25" y1="975.51" x2="1498.06" y2="990.55" stroke="#444" stroke-width="0.7" />
<line x1="1484.5" y1="974.83" x2="1498.62" y2="989.3" stroke="#444" stroke-width="0.7" />
<line x1="1485.75" y1="974.14" x2="1499.19" y2="988.05" stroke="#444" stroke-width="0.7" />
<line x1="1487" y1="973.45" x2="1499.75" y2="986.8" stroke="#444" stroke-width="0.7" />
<line x1="1488.25" y1="972.76" x2="1500.31" y2="985.55" stroke="#444" stroke-width="0.7" />
<line x1="1489.5" y1="972.08" x2="1500.88" y2="984.3" stroke="#444" stroke-width="0.7" />
<rect x="-4.2" y="-4.2" width="8.4" height="8.4" rx="1.5" transform="translate(1496.3,977.8) rotate(40)" fill="#fff" stroke="#444" stroke-width="0.8"/>
<circle cx="1478.3" cy="972.1" r="1.2" stroke="#444" stroke-width="0.7" fill="none"/>
<circle cx="1483.6" cy="972.1" r="1.2" stroke="#444" stroke-width="0.7" fill="none"/>
<rect x="1501.8" y="981" width="2.3" height="5.5" fill="#fff" stroke="#555" stroke-width="0.7"/>
<g transform="translate(1504.1,1158.7) rotate(90) scale(1,1)" fill="#fff" stroke="#333" stroke-width="0.9">
<path d="M-12.3,18 C-15,28 -18,38 -17.8,47 C-17.5,58 -9,66.7 0,66.7 C9,66.7 17.8,58 18,47 C18,38 15,28 12.4,18 Z"/>
<ellipse cx="0" cy="45.1" rx="14" ry="17.5"/>
<ellipse cx="0" cy="41" rx="5.2" ry="3.8"/>
<path d="M-22.8,0 H22.8 V12 Q22.8,18.4 15,18.4 H-15 Q-22.8,18.4 -22.8,12 Z"/>
<path d="M-20.4,8.3 C-19,3.5 -8,3.2 0,3.1 C8,3.2 19,3.5 20,8.3" fill="none" stroke="#222" stroke-width="1"/>
<circle cx="0" cy="12.1" r="1.8"/>
<circle cx="-8.2" cy="22.9" r="1.1" fill="#333" stroke="none"/><circle cx="8.2" cy="22.9" r="1.1" fill="#333" stroke="none"/>
</g>
<g transform="translate(1750.3,1017.9) rotate(90) scale(1,0.99)" fill="#fff" stroke="#333" stroke-width="0.9">
<path d="M-12.3,18 C-15,28 -18,38 -17.8,47 C-17.5,58 -9,66.7 0,66.7 C9,66.7 17.8,58 18,47 C18,38 15,28 12.4,18 Z"/>
<ellipse cx="0" cy="45.1" rx="14" ry="17.5"/>
<ellipse cx="0" cy="41" rx="5.2" ry="3.8"/>
<path d="M-22.8,0 H22.8 V12 Q22.8,18.4 15,18.4 H-15 Q-22.8,18.4 -22.8,12 Z"/>
<path d="M-20.4,8.3 C-19,3.5 -8,3.2 0,3.1 C8,3.2 19,3.5 20,8.3" fill="none" stroke="#222" stroke-width="1"/>
<circle cx="0" cy="12.1" r="1.8"/>
<circle cx="-8.2" cy="22.9" r="1.1" fill="#333" stroke="none"/><circle cx="8.2" cy="22.9" r="1.1" fill="#333" stroke="none"/>
</g>
<g transform="translate(1504.1,1093.65) rotate(90)" fill="#fff" stroke="#333" stroke-width="0.9">
<rect x="-22.55" y="0" width="45.1" height="39.9" rx="3.2"/>
<rect x="-18.05" y="8.74" width="36.1" height="27.04" rx="2.2"/>
<circle cx="0" cy="21.31" r="2.2"/>
<path d="M0,15.88 L-2.8,3.82 H2.8 Z"/>
<ellipse cx="-5.5" cy="5.73" rx="2.5" ry="2"/><ellipse cx="5.5" cy="5.73" rx="2.5" ry="2"/>
</g>
<g transform="translate(1625.1,1089.4) rotate(-90)" fill="#fff" stroke="#333" stroke-width="0.9">
<rect x="-19.3" y="0" width="38.6" height="34.1" rx="3.2"/>
<rect x="-14.8" y="7.47" width="29.6" height="23.11" rx="2.2"/>
<circle cx="0" cy="18.21" r="2.2"/>
<path d="M0,13.57 L-2.8,3.26 H2.8 Z"/>
<ellipse cx="-5.5" cy="4.9" rx="2.5" ry="2"/><ellipse cx="5.5" cy="4.9" rx="2.5" ry="2"/>
</g>
<polygon points="978.75,1154.25 990.25,1150.65 990.25,1157.85" fill="#000" />
<polygon points="1300.75,1154.25 1289.25,1150.65 1289.25,1157.85" fill="#000" />
<polygon points="1103.75,1327 1100.15,1338.5 1107.35,1338.5" fill="#000" />
<polygon points="1103.75,1714.5 1100.15,1703 1107.35,1703" fill="#000" />
<polygon points="978.75,1575 990.25,1571.4 990.25,1578.6" fill="#000" />
<polygon points="1300.75,1575 1289.25,1571.4 1289.25,1578.6" fill="#000" />
<polygon points="1466.25,834.5 1477.75,830.9 1477.75,838.1" fill="#000" />
<polygon points="1750.5,834.5 1739,830.9 1739,838.1" fill="#000" />
<polygon points="1586.75,695.25 1583.15,706.75 1590.35,706.75" fill="#000" />
<polygon points="1586.75,1123 1583.15,1111.5 1590.35,1111.5" fill="#000" />
<polygon points="1442.75,1449.5 1439.15,1461 1446.35,1461" fill="#000" />
<polygon points="1442.75,1638.75 1439.15,1627.25 1446.35,1627.25" fill="#000" />
<polygon points="1315,1543.75 1326.5,1540.15 1326.5,1547.35" fill="#000" />
<polygon points="1504,1544.25 1492.5,1540.65 1492.5,1547.85" fill="#000" />
<polygon points="1609.25,1411.75 1605.65,1423.25 1612.85,1423.25" fill="#000" />
<polygon points="1609.25,1638.75 1605.65,1627.25 1612.85,1627.25" fill="#000" />
<polygon points="1533,1517 1544.5,1513.4 1544.5,1520.6" fill="#000" />
<polygon points="1750.5,1517 1739,1513.4 1739,1520.6" fill="#000" />
<line x1="1581" y1="1123.4" x2="1592.5" y2="1123.4" stroke="#222" stroke-width="0.8" />
</g>
<g id="loft">
<rect x="1409.2" y="1.3" width="370" height="489.3" fill="#000" />
<rect x="1437.9" y="30" width="312.3" height="45.7" fill="#fff" />
<rect x="1437.9" y="90.1" width="312.3" height="312.4" fill="#fff" />
<rect x="1437.9" y="417" width="312.3" height="45.7" fill="#fff" />
<rect x="1594" y="75.2" width="71.2" height="15.4" fill="#fff" />
<rect x="1594" y="402" width="71.2" height="15.5" fill="#fff" />
<line x1="1594" y1="75.9" x2="1665.2" y2="75.9" stroke="#222" stroke-width="0.8" />
<line x1="1594" y1="416.8" x2="1665.2" y2="416.8" stroke="#222" stroke-width="0.8" />
<rect x="1437.9" y="256" width="70.8" height="14.4" fill="#000" />
<rect x="1494.3" y="256" width="14.4" height="23.8" fill="#000" />
<rect x="1494.3" y="393" width="14.4" height="10" fill="#000" />
<path d="M1648.7,134.6 A70.51,70.51 0 0 0 1665.2,76" stroke="#222" stroke-width="0.9" fill="none" />
<line x1="1594" y1="90.1" x2="1648.7" y2="134.6" stroke="#000" stroke-width="2.8" stroke-linecap="butt"/>
<path d="M1649.2,358 A70.9,70.9 0 0 1 1665.2,417" stroke="#222" stroke-width="0.9" fill="none" />
<line x1="1594" y1="402.5" x2="1649.2" y2="358" stroke="#000" stroke-width="2.8" stroke-linecap="butt"/>
<path d="M1508.7,279.8 L1545,323.8 M1509,392.6 L1545.6,349.2" stroke="#000" stroke-width="2.6" fill="none" />
<path d="M1545,323.8 Q1530,334 1509.5,336 Q1530,338 1545.6,349.2" stroke="#222" stroke-width="0.7" fill="none" />
<rect x="1513.8" y="173.4" width="70.9" height="6.9" fill="#fff" stroke="#444" stroke-width="0.7"/>
<line x1="1513.8" y1="180.3" x2="1520.7" y2="173.4" stroke="#222" stroke-width="0.9" />
<line x1="1524.3" y1="180.3" x2="1531.2" y2="173.4" stroke="#222" stroke-width="0.9" />
<line x1="1534.8" y1="180.3" x2="1541.7" y2="173.4" stroke="#222" stroke-width="0.9" />
<line x1="1545.3" y1="180.3" x2="1552.2" y2="173.4" stroke="#222" stroke-width="0.9" />
<line x1="1555.8" y1="180.3" x2="1562.7" y2="173.4" stroke="#222" stroke-width="0.9" />
<line x1="1566.3" y1="180.3" x2="1573.2" y2="173.4" stroke="#222" stroke-width="0.9" />
<line x1="1576.8" y1="180.3" x2="1583.7" y2="173.4" stroke="#222" stroke-width="0.9" />
<rect x="1577.3" y="180.3" width="7.4" height="82" fill="#fff" stroke="#444" stroke-width="0.7"/>
<line x1="1577.3" y1="187.7" x2="1584.7" y2="180.3" stroke="#222" stroke-width="0.9" />
<line x1="1577.3" y1="198.2" x2="1584.7" y2="190.8" stroke="#222" stroke-width="0.9" />
<line x1="1577.3" y1="208.7" x2="1584.7" y2="201.3" stroke="#222" stroke-width="0.9" />
<line x1="1577.3" y1="219.2" x2="1584.7" y2="211.8" stroke="#222" stroke-width="0.9" />
<line x1="1577.3" y1="229.7" x2="1584.7" y2="222.3" stroke="#222" stroke-width="0.9" />
<line x1="1577.3" y1="240.2" x2="1584.7" y2="232.8" stroke="#222" stroke-width="0.9" />
<line x1="1577.3" y1="250.7" x2="1584.7" y2="243.3" stroke="#222" stroke-width="0.9" />
<line x1="1577.3" y1="261.2" x2="1584.7" y2="253.8" stroke="#222" stroke-width="0.9" />
<rect x="1508.7" y="256" width="68.6" height="6.3" fill="#fff" stroke="#444" stroke-width="0.7"/>
<line x1="1508.7" y1="262.3" x2="1515" y2="256" stroke="#222" stroke-width="0.9" />
<line x1="1519.2" y1="262.3" x2="1525.5" y2="256" stroke="#222" stroke-width="0.9" />
<line x1="1529.7" y1="262.3" x2="1536" y2="256" stroke="#222" stroke-width="0.9" />
<line x1="1540.2" y1="262.3" x2="1546.5" y2="256" stroke="#222" stroke-width="0.9" />
<line x1="1550.7" y1="262.3" x2="1557" y2="256" stroke="#222" stroke-width="0.9" />
<line x1="1561.2" y1="262.3" x2="1567.5" y2="256" stroke="#222" stroke-width="0.9" />
<path d="M1437.9,180.3 H1577.3 V256 M1475.7,180.3 V217.9 H1544 M1513.8,180.3 V256 M1534.6,180.3 V256 M1556,180.3 V256" stroke="#111" stroke-width="1.15" fill="none" />
<polygon points="1555.5,217.9 1542.5,215.6 1542.5,220.2" fill="#000" />
<polygon points="1437.9,170.6 1449.4,167 1449.4,174.2" fill="#000" />
<polygon points="1750.2,170.6 1738.7,167 1738.7,174.2" fill="#000" />
<polygon points="1577.6,90.1 1574,101.6 1581.2,101.6" fill="#000" />
<polygon points="1577.6,402.5 1574,391 1581.2,391" fill="#000" />
</g>
<g id="labels">
<text x="309.6" y="798" font-size="25.4" font-weight="normal" fill="#000" text-anchor="middle" textLength="152" lengthAdjust="spacingAndGlyphs" >Dining Room</text>
<text x="309.6" y="828.75" font-size="25.4" font-weight="normal" fill="#000" text-anchor="middle" textLength="152.5" lengthAdjust="spacingAndGlyphs" >4.32 x 2.64m</text>
<text x="309.6" y="860.5" font-size="25.4" font-weight="normal" fill="#000" text-anchor="middle" textLength="127" lengthAdjust="spacingAndGlyphs" >14'2&quot; x 8'8&quot;</text>
<text x="664.6" y="782" font-size="25.4" font-weight="normal" fill="#000" text-anchor="middle" textLength="93.5" lengthAdjust="spacingAndGlyphs" >Kitchen/</text>
<text x="664.8" y="813" font-size="25.4" font-weight="normal" fill="#000" text-anchor="middle" textLength="173" lengthAdjust="spacingAndGlyphs" >Breakfast Area</text>
<text x="664.8" y="845" font-size="25.4" font-weight="normal" fill="#000" text-anchor="middle" textLength="152" lengthAdjust="spacingAndGlyphs" >5.84 x 2.34m</text>
<text x="664.8" y="876.25" font-size="25.4" font-weight="normal" fill="#000" text-anchor="middle" textLength="128.5" lengthAdjust="spacingAndGlyphs" >19'2&quot; x 7'8&quot;</text>
<text x="226.6" y="1118.25" font-size="25.4" font-weight="normal" fill="#000" text-anchor="middle" textLength="154.5" lengthAdjust="spacingAndGlyphs" >Family Room</text>
<text x="226.6" y="1150" font-size="25.4" font-weight="normal" fill="#000" text-anchor="middle" textLength="152.3" lengthAdjust="spacingAndGlyphs" >3.66 x 3.51m</text>
<text x="226.6" y="1181.25" font-size="25.4" font-weight="normal" fill="#000" text-anchor="middle" textLength="144" lengthAdjust="spacingAndGlyphs" >12'0&quot; x 11'6&quot;</text>
<text x="257.7" y="1460" font-size="25.4" font-weight="normal" fill="#000" text-anchor="middle" textLength="195.75" lengthAdjust="spacingAndGlyphs" >Reception Room</text>
<text x="257.7" y="1491.75" font-size="25.4" font-weight="normal" fill="#000" text-anchor="middle" textLength="152.5" lengthAdjust="spacingAndGlyphs" >4.17 x 3.81m</text>
<text x="257.7" y="1523.25" font-size="25.4" font-weight="normal" fill="#000" text-anchor="middle" textLength="143.75" lengthAdjust="spacingAndGlyphs" >13'8&quot; x 12'6&quot;</text>
<text x="709.3" y="1287.5" font-size="21.8" font-weight="normal" fill="#000" text-anchor="middle" textLength="55.5" lengthAdjust="spacingAndGlyphs" >Utility</text>
<text x="709.3" y="1315" font-size="21.8" font-weight="normal" fill="#000" text-anchor="middle" textLength="132" lengthAdjust="spacingAndGlyphs" >2.34 x 1.24m</text>
<text x="709.3" y="1342" font-size="21.8" font-weight="normal" fill="#000" text-anchor="middle" textLength="99.3" lengthAdjust="spacingAndGlyphs" >7'8&quot; x 4'1&quot;</text>
<text x="732.1" y="1508" font-size="25.4" font-weight="normal" fill="#000" text-anchor="middle" textLength="69.5" lengthAdjust="spacingAndGlyphs" >Office</text>
<text x="732.1" y="1539.25" font-size="25.4" font-weight="normal" fill="#000" text-anchor="middle" textLength="152.5" lengthAdjust="spacingAndGlyphs" >3.99 x 2.36m</text>
<text x="732.1" y="1570" font-size="25.4" font-weight="normal" fill="#000" text-anchor="middle" textLength="128.7" lengthAdjust="spacingAndGlyphs" >13'1&quot; x 7'9&quot;</text>
<text x="1138" y="1098.25" font-size="25.4" font-weight="normal" fill="#000" text-anchor="middle" textLength="106.5" lengthAdjust="spacingAndGlyphs" >Bedroom</text>
<text x="1138" y="1129.5" font-size="25.4" font-weight="normal" fill="#000" text-anchor="middle" textLength="152.3" lengthAdjust="spacingAndGlyphs" >3.68 x 3.45m</text>
<text x="1138" y="1160.75" font-size="25.4" font-weight="normal" fill="#000" text-anchor="middle" textLength="143.3" lengthAdjust="spacingAndGlyphs" >12'1&quot; x 11'4&quot;</text>
<text x="1139.2" y="1460" font-size="25.4" font-weight="normal" fill="#000" text-anchor="middle" textLength="106.5" lengthAdjust="spacingAndGlyphs" >Bedroom</text>
<text x="1139.2" y="1492" font-size="25.4" font-weight="normal" fill="#000" text-anchor="middle" textLength="152.7" lengthAdjust="spacingAndGlyphs" >4.17 x 3.45m</text>
<text x="1139.2" y="1523.25" font-size="25.4" font-weight="normal" fill="#000" text-anchor="middle" textLength="144" lengthAdjust="spacingAndGlyphs" >13'8&quot; x 11'4&quot;</text>
<text x="1635.2" y="791.25" font-size="25.4" font-weight="normal" fill="#000" text-anchor="middle" textLength="106.7" lengthAdjust="spacingAndGlyphs" >Bedroom</text>
<text x="1635.2" y="823" font-size="25.4" font-weight="normal" fill="#000" text-anchor="middle" textLength="153.3" lengthAdjust="spacingAndGlyphs" >4.65 x 3.05m</text>
<text x="1635.2" y="855" font-size="25.4" font-weight="normal" fill="#000" text-anchor="middle" textLength="143.5" lengthAdjust="spacingAndGlyphs" >15'3&quot; x 10'0&quot;</text>
<text x="1415.5" y="1508.75" font-size="25.4" font-weight="normal" fill="#000" text-anchor="middle" textLength="106.7" lengthAdjust="spacingAndGlyphs" >Bedroom</text>
<text x="1415.5" y="1540" font-size="25.4" font-weight="normal" fill="#000" text-anchor="middle" textLength="152.5" lengthAdjust="spacingAndGlyphs" >2.03 x 2.03m</text>
<text x="1415.5" y="1571.25" font-size="25.4" font-weight="normal" fill="#000" text-anchor="middle" textLength="115.75" lengthAdjust="spacingAndGlyphs" >6'8&quot; x 6'8&quot;</text>
<text x="1635.6" y="1492.5" font-size="25.4" font-weight="normal" fill="#000" text-anchor="middle" textLength="106.5" lengthAdjust="spacingAndGlyphs" >Bedroom</text>
<text x="1635.6" y="1524.25" font-size="25.4" font-weight="normal" fill="#000" text-anchor="middle" textLength="152.7" lengthAdjust="spacingAndGlyphs" >2.44 x 2.34m</text>
<text x="1635.6" y="1555.75" font-size="25.4" font-weight="normal" fill="#000" text-anchor="middle" textLength="115.25" lengthAdjust="spacingAndGlyphs" >8'0&quot; x 7'8&quot;</text>
<text x="1599.7" y="59.7" font-size="25.4" font-weight="normal" fill="#000" text-anchor="middle" textLength="73" lengthAdjust="spacingAndGlyphs" >Eaves</text>
<text x="1603.7" y="448.7" font-size="25.4" font-weight="normal" fill="#000" text-anchor="middle" textLength="73" lengthAdjust="spacingAndGlyphs" >Eaves</text>
<text x="1666.5" y="219.7" font-size="25.4" font-weight="normal" fill="#000" text-anchor="middle" textLength="121.3" lengthAdjust="spacingAndGlyphs" >Loft Room</text>
<text x="1666.5" y="250.9" font-size="25.4" font-weight="normal" fill="#000" text-anchor="middle" textLength="151.8" lengthAdjust="spacingAndGlyphs" >3.35 x 3.35m</text>
<text x="1666.5" y="282.4" font-size="25.4" font-weight="normal" fill="#000" text-anchor="middle" textLength="143" lengthAdjust="spacingAndGlyphs" >11'0&quot; x 11'0&quot;</text>
<text x="448.2" y="1823.7" font-size="31.6" font-weight="normal" fill="#000" text-anchor="middle" textLength="196" lengthAdjust="spacingAndGlyphs" >Ground Floor</text>
<text x="449.5" y="1863.6" font-size="31.6" font-weight="normal" fill="#000" text-anchor="middle" textLength="348.5" lengthAdjust="spacingAndGlyphs" >Approximate Floor Area</text>
<text x="449.8" y="1903.7" font-size="31.6" font-weight="normal" fill="#000" text-anchor="middle" textLength="173" lengthAdjust="spacingAndGlyphs" >920.47 sq.ft</text>
<text x="450" y="1943.6" font-size="31.6" font-weight="normal" fill="#000" text-anchor="middle" textLength="186" lengthAdjust="spacingAndGlyphs" >(85.51 sq.m)</text>
<text x="1362" y="1823.3" font-size="31.6" font-weight="normal" fill="#000" text-anchor="middle" textLength="149" lengthAdjust="spacingAndGlyphs" >First Floor</text>
<text x="1363" y="1863.3" font-size="31.6" font-weight="normal" fill="#000" text-anchor="middle" textLength="349" lengthAdjust="spacingAndGlyphs" >Approximate Floor Area</text>
<text x="1364" y="1903.3" font-size="31.6" font-weight="normal" fill="#000" text-anchor="middle" textLength="172.5" lengthAdjust="spacingAndGlyphs" >754.48 sq.ft</text>
<text x="1364" y="1943.3" font-size="31.6" font-weight="normal" fill="#000" text-anchor="middle" textLength="186" lengthAdjust="spacingAndGlyphs" >(70.09 sq.m)</text>
<text x="1592.3" y="521.7" font-size="31.6" font-weight="normal" fill="#000" text-anchor="middle" textLength="55" lengthAdjust="spacingAndGlyphs" >Loft</text>
<text x="1592.5" y="561.7" font-size="31.6" font-weight="normal" fill="#000" text-anchor="middle" textLength="349.5" lengthAdjust="spacingAndGlyphs" >Approximate Floor Area</text>
<text x="1592.8" y="602" font-size="31.6" font-weight="normal" fill="#000" text-anchor="middle" textLength="172.5" lengthAdjust="spacingAndGlyphs" >119.16 sq.ft</text>
<text x="1593.6" y="642" font-size="31.6" font-weight="normal" fill="#000" text-anchor="middle" textLength="185.5" lengthAdjust="spacingAndGlyphs" >(11.07 sq.m)</text>
<text x="721" y="88.4" font-size="62.5" font-weight="bold" fill="#000" text-anchor="middle" textLength="541" lengthAdjust="spacingAndGlyphs" >The Larches UB10</text>
<text x="719.5" y="141.5" font-size="20" font-weight="normal" fill="#000" text-anchor="middle" textLength="325" lengthAdjust="spacingAndGlyphs" >Approx. Gross Internal Floor Area</text>
<text x="727.4" y="192.6" font-size="38" font-weight="normal" fill="#000" text-anchor="middle" textLength="432.5" lengthAdjust="spacingAndGlyphs" >166.6 Sq M - 1794 Sq Ft</text>
<text x="906.5" y="2004.3" font-size="26" font-weight="normal" fill="#000" text-anchor="middle" textLength="1085" lengthAdjust="spacingAndGlyphs" >Illustration for identification purposes only, measurements are approximate, not to scale.</text>
<text x="906.4" y="2037.2" font-size="26" font-weight="normal" fill="#000" text-anchor="middle" textLength="467" lengthAdjust="spacingAndGlyphs" >Produced By Esjay Property Marketing</text>
</g>
<g id="logo">
<rect x="4.1" y="1905.8" width="193.8" height="136.4" fill="url(#lg)"/>
<polygon points="64.3,1941.9 76.6,1941.9 45.2,2006.7 32.4,2006.7" fill="#fdfdfd" />
<polygon points="76.6,1941.9 93.1,1970.2 82,1970.2 71.6,1954" fill="#d8d8d8" />
<text x="116.9" y="1990" font-size="23" font-weight="normal" fill="#effff0" text-anchor="middle" textLength="105.5" lengthAdjust="spacingAndGlyphs" stroke="#effff0" stroke-width="0.5">ANDREWS</text>
<text x="117.3" y="2006.6" font-size="12.6" font-weight="normal" fill="#cfe9cf" text-anchor="middle" textLength="108.5" lengthAdjust="spacingAndGlyphs" letter-spacing="2">RESIDENTIAL</text>
</g>
</svg>
</body></html>
